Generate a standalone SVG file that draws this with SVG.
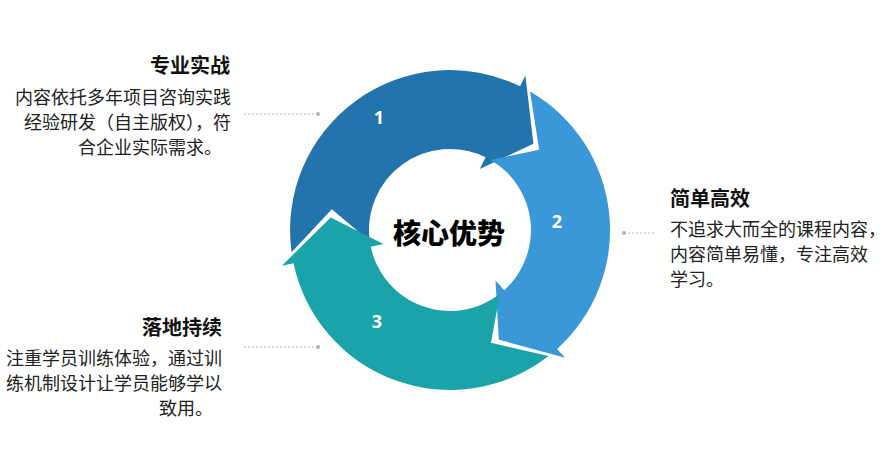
<svg xmlns="http://www.w3.org/2000/svg" width="885" height="451" viewBox="0 0 885 451">
<style>
text{font-family:"Noto Sans CJK SC","Noto Sans",sans-serif}
.t{font-size:20px;font-weight:bold;fill:#111}
.b{font-size:18px;fill:#222}
.n{font-size:18px;font-weight:bold;fill:#fff;text-anchor:middle;font-family:"Open Sans","Noto Sans",sans-serif}
.c{stroke:#aab4c2;stroke-width:1;stroke-dasharray:2 2;fill:none}
.d{fill:#aab4c2}
</style>
<rect width="885" height="451" fill="#fff"/>
<g id="seg1"><path fill="#2373AC" d="M291.6,252.3 A160,160 0 0 1 520.1,86.2 L525.4,75.4 L533.4,143.7 L479.8,168.9 L485.5,157.2 A81,81 0 0 0 369.8,241.3 L331.8,209.2 Z"/><text class="n" x="379" y="124">1</text></g>
<g id="seg2"><path fill="#3A98D8" d="M530,91.4 A160,160 0 0 1 557.1,348.9 L565.1,357.8 L498.8,339.6 L495.5,280.5 L504.2,290.2 A81,81 0 0 0 490.5,159.9 L539.2,149.7 Z"/><text class="n" x="557" y="228">2</text></g>
<g id="seg3"><path fill="#1BA3AA" d="M548.5,356.1 A160,160 0 0 1 293.5,263.3 L281.8,265.8 L330.7,217.5 L383.5,244.1 L370.8,246.8 A81,81 0 0 0 499.9,293.8 L491,342.8 Z"/><text class="n" x="377" y="328">3</text></g>
<g id="center"><text x="449" y="244" text-anchor="middle" style="font-size:28px;font-weight:900;fill:#000">核心优势</text></g>
<g id="connectors">
<line class="c" x1="244" y1="114" x2="318" y2="114"/><circle class="d" cx="318" cy="114" r="2"/>
<line class="c" x1="244" y1="347" x2="318" y2="347"/><circle class="d" cx="318" cy="347" r="2"/>
<line class="c" x1="624" y1="233" x2="655" y2="233"/><circle class="d" cx="624" cy="233" r="2"/>
</g>
<g id="n1" text-anchor="end"><text class="t" x="230" y="73">专业实战</text>
<text class="b" x="231" y="104">内容依托多年项目咨询实践</text><text class="b" x="231" y="129">经验研发（自主版权），符</text><text class="b" x="222" y="154">合企业实际需求。</text></g>
<g id="n2"><text class="t" x="670" y="206">简单高效</text>
<text class="b" x="670" y="236">不追求大而全的课程内容，</text><text class="b" x="670" y="261">内容简单易懂，专注高效</text><text class="b" x="670" y="286">学习。</text></g>
<g id="n3" text-anchor="end"><text class="t" x="222" y="335">落地持续</text>
<text class="b" x="222" y="365">注重学员训练体验，通过训</text><text class="b" x="222" y="390">练机制设计让学员能够学以</text><text class="b" x="213" y="415">致用。</text></g>
</svg>
